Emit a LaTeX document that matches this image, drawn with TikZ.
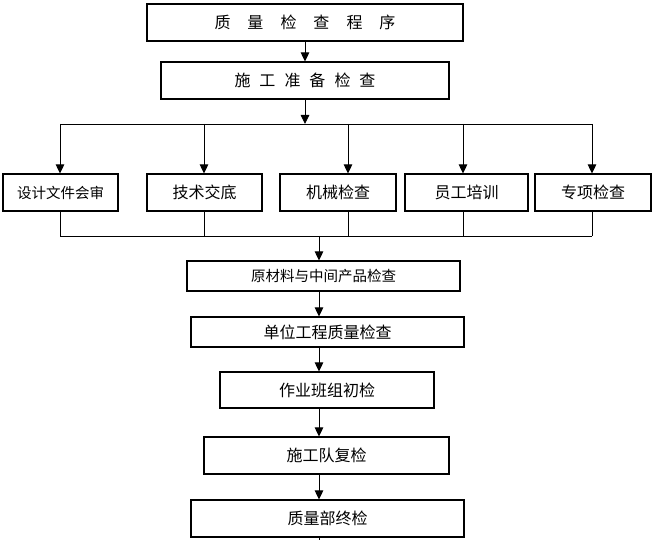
\documentclass[tikz,border=0pt]{standalone}
\usepackage{fontspec}
\setmainfont{Noto Sans CJK SC}
\usetikzlibrary{arrows.meta}
\tikzset{
  box/.style={draw=black, line width=1.1pt, fill=white, inner sep=0pt, font=\fontsize{16}{18}\selectfont},
  smalltxt/.style={font=\fontsize{14.5}{16}\selectfont},
  conn/.style={draw=black, line width=0.9pt},
  arr/.style={conn, -{Triangle[length=9pt,width=8.5pt]}}
}
\begin{document}
\begin{tikzpicture}[x=1pt,y=-1pt]
\useasboundingbox (0,0) rectangle (656,540);
\node[box, minimum width=316pt, minimum height=37pt] (top) at (305,22.5)
  {质\hspace{17pt}量\hspace{17pt}检\hspace{17pt}查\hspace{17pt}程\hspace{17pt}序};
\node[box, minimum width=288pt, minimum height=37pt] (prep) at (305,80.5)
  {施\hspace{9pt}工\hspace{9pt}准\hspace{9pt}备\hspace{9pt}检\hspace{9pt}查};
\node[box, smalltxt, minimum width=115pt, minimum height=37pt] (a) at (60.5,192.5) {设计文件会审};
\node[box, minimum width=115pt, minimum height=37pt] (b) at (204.5,192.5) {技术交底};
\node[box, minimum width=116pt, minimum height=37pt] (c) at (338,192.5) {机械检查};
\node[box, minimum width=123pt, minimum height=37pt] (d) at (466.5,192.5) {员工培训};
\node[box, minimum width=116pt, minimum height=37pt] (e) at (593,192.5) {专项检查};
\node[box, smalltxt, minimum width=273pt, minimum height=30pt] (f) at (323.5,276) {原材料与中间产品检查};
\node[box, minimum width=273pt, minimum height=30pt] (g) at (327.5,332) {单位工程质量检查};
\node[box, minimum width=214pt, minimum height=36pt] (h) at (327,390) {作业班组初检};
\node[box, minimum width=245pt, minimum height=37pt] (i) at (326.5,455.5) {施工队复检};
\node[box, minimum width=273pt, minimum height=37pt] (j) at (327.5,518.5) {质量部终检};
% bus coordinates
\coordinate (busT) at (305,124);
\coordinate (ta) at (60,124);
\coordinate (tb) at (204,124);
\coordinate (tc) at (348,124);
\coordinate (td) at (463,124);
\coordinate (te) at (592,124);
\coordinate (ba) at (60,236);
\coordinate (bb) at (204,236);
\coordinate (bc) at (348,236);
\coordinate (bd) at (463,236);
\coordinate (be) at (592,236);
\coordinate (busB) at (319,236);
\coordinate (endpt) at (319,540);
% connectors
\draw[arr] (top) -- (prep);
\draw[arr] (prep) -- (busT);
\draw[conn] (ta) -- (te);
\foreach \n in {a,b,c,d,e}{
  \draw[arr] (t\n) -- (t\n |- \n.north);
  \draw[conn] (b\n |- \n.south) -- (b\n);
}
\draw[conn] (ba) -- (be);
\draw[arr] (busB) -- (busB |- f.north);
\draw[arr] (busB |- f.south) -- (busB |- g.north);
\draw[arr] (busB |- g.south) -- (busB |- h.north);
\draw[arr] (busB |- h.south) -- (busB |- i.north);
\draw[arr] (busB |- i.south) -- (busB |- j.north);
\draw[conn] (busB |- j.south) -- (endpt);
\end{tikzpicture}
\end{document}
